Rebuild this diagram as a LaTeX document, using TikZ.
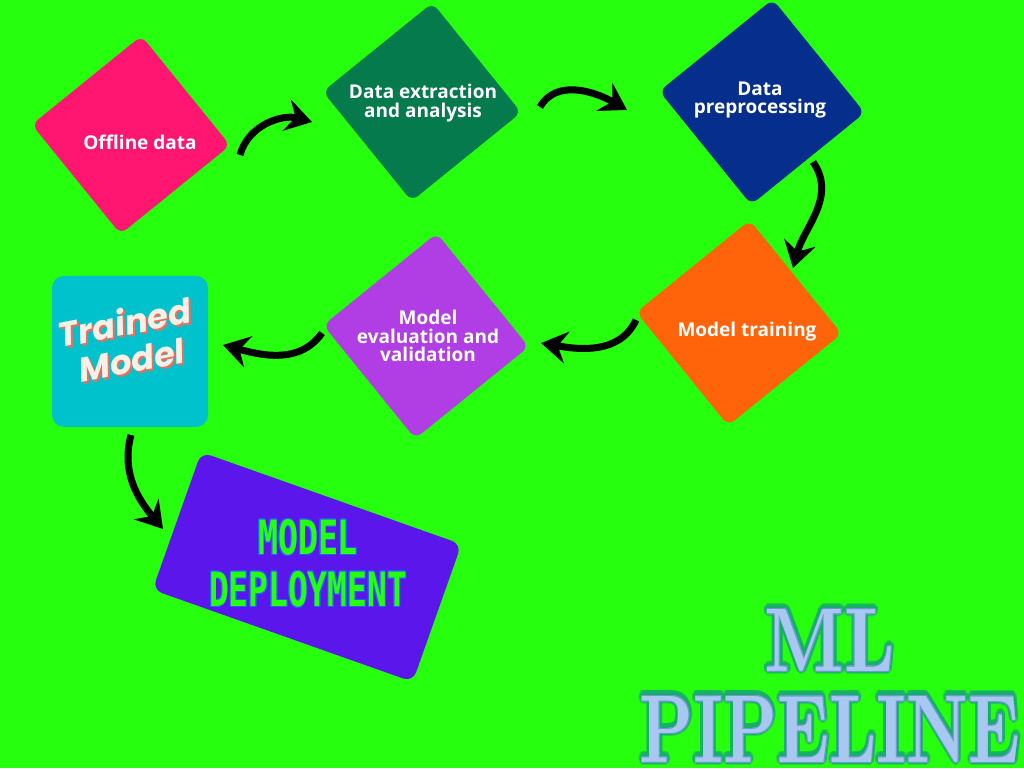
\documentclass[tikz,border=0pt]{standalone}
\usepackage{fontspec}
\usepackage{contour}
\usetikzlibrary{positioning,arrows.meta}
\newfontfamily\stagefont{Open Sans}
\newfontfamily\trainedfont{Poppins}
\newfontfamily\deployfont{DejaVu Sans Mono}
\definecolor{bggreen}{RGB}{38,255,13}
\definecolor{offpink}{RGB}{255,22,112}
\definecolor{extgreen}{RGB}{5,122,77}
\definecolor{preblue}{RGB}{6,46,140}
\definecolor{trainorange}{RGB}{255,100,10}
\definecolor{evalviolet}{RGB}{176,62,228}
\definecolor{trainedcyan}{RGB}{0,194,204}
\definecolor{deploypurple}{RGB}{91,23,235}
\definecolor{deployblue}{RGB}{40,90,255}
\definecolor{cream}{RGB}{246,241,230}
\definecolor{salmon}{RGB}{232,112,96}
\definecolor{titleblue}{RGB}{168,200,240}
\definecolor{titleedge}{RGB}{105,155,210}
\definecolor{titleglow}{RGB}{22,175,105}
\tikzset{
  stage/.style={rectangle, rounded corners=8pt, minimum size=141pt, inner sep=0pt, rotate=39},
  stagetext/.style={text=white, align=center, font=\stagefont\bfseries\fontsize{19}{18.5}\selectfont},
  trainedlbl/.style={align=center, rotate=11, font=\trainedfont\bfseries\itshape\fontsize{34}{38}\selectfont},
  curvy/.style={line width=7pt, -{Stealth[length=26pt,width=32pt,inset=9pt]}},
}
\begin{document}
\begin{tikzpicture}[x=1pt,y=1pt,node distance=100pt,on grid]
\fill[bggreen] (0,0) rectangle (1024,768);
\useasboundingbox (0,0) rectangle (1024,768);

% the stages
\node[stage, fill=offpink] (off) at (131,633) {};
\node[stage, fill=extgreen, above right=33pt and 291pt of off] (ext) {};
\node[stage, fill=preblue, minimum size=146pt, right=340pt of ext, yshift=0pt] (pre) {};
\node[stage, fill=trainorange, minimum size=146pt, below left=221pt and 23pt of pre] (train) {};
\node[stage, fill=evalviolet, minimum size=146pt, below left=13pt and 313pt of train] (eval) {};
\node[rectangle, rounded corners=12pt, fill=trainedcyan, minimum width=156pt, minimum height=151pt,
      below left=15.5pt and 296pt of eval] (trained) {};
\node[rectangle, rounded corners=10pt, fill=deploypurple, minimum width=276pt, minimum height=146pt,
      rotate=-19.5, below right=215.5pt and 177pt of trained] (deploy) {};

\node[stagetext, below right=7pt and 9pt of off] (offtxt) {Offline data};
\node[stagetext, below right=1pt and 1pt of ext] (exttxt) {Data extraction\\and analysis};
\node[stagetext, above left=2pt and 2pt of pre] (pretxt) {Data\\preprocessing};
\node[stagetext, below right=9pt and 8pt of train] (traintxt) {Model training};
\node[stagetext, right=2pt of eval] (evaltxt) {Model\\evaluation and\\validation};

% trained model label
\node[trainedlbl, text=salmon, above right=9pt and 0pt of trained] (trainedsh) {Trained\\Model};
\node[trainedlbl, text=cream, above left=11pt and 2pt of trained] (trainedtxt) {Trained\\Model};

% deployment label
\contourlength{0.25pt}
\node[inner sep=0pt, text=bggreen, above right=29pt and 1pt of deploy] (dep1)
  {\resizebox{100pt}{35pt}{\deployfont\bfseries\contour{deployblue}{MODEL}}};
\node[inner sep=0pt, text=bggreen, below right=23pt and 1pt of deploy] (dep2)
  {\resizebox{198pt}{35pt}{\deployfont\bfseries\contour{deployblue}{DEPLOYMENT}}};

% title
\contourlength{0.45pt}
\node[inner sep=0pt, text=titleglow, opacity=0.55] (mlglow) at (830,127)
  {\resizebox{130pt}{62pt}{\bfseries\contour{titleglow}{ML}}};
\node[inner sep=0pt, text=titleglow, opacity=0.55, below=89pt of mlglow] (pipeglow)
  {\resizebox{380pt}{66pt}{\bfseries\contour{titleglow}{PIPELINE}}};
\contourlength{0.1pt}
\node[inner sep=0pt, text=titleblue] (ml) at (830,127)
  {\resizebox{130pt}{62pt}{\bfseries\contour{titleedge}{ML}}};
\node[inner sep=0pt, text=titleblue, below=89pt of ml] (pipe)
  {\resizebox{380pt}{66pt}{\bfseries\contour{titleedge}{PIPELINE}}};

% arrows
\coordinate (a1s) at (240,613); \coordinate (a1e) at (312,646);
\coordinate (a2s) at (540,661); \coordinate (a2e) at (627,658);
\coordinate (a3s) at (813,606); \coordinate (a3e) at (793,500);
\coordinate (a4s) at (636,448); \coordinate (a4e) at (541,425);
\coordinate (a5s) at (322,435); \coordinate (a5e) at (223,423);
\coordinate (a6s) at (131,333); \coordinate (a6e) at (163,239);
\draw[curvy] (a1s) to[out=75,in=165] (a1e);
\draw[curvy] (a2s) to[out=60,in=150] (a2e);
\draw[curvy] (a3s) to[out=-55,in=75] (a3e);
\draw[curvy] (a4s) to[out=-115,in=-10] (a4e);
\draw[curvy] (a5s) to[out=-125,in=-15] (a5e);
\draw[curvy] (a6s) to[out=-105,in=130] (a6e);
\end{tikzpicture}
\end{document}
